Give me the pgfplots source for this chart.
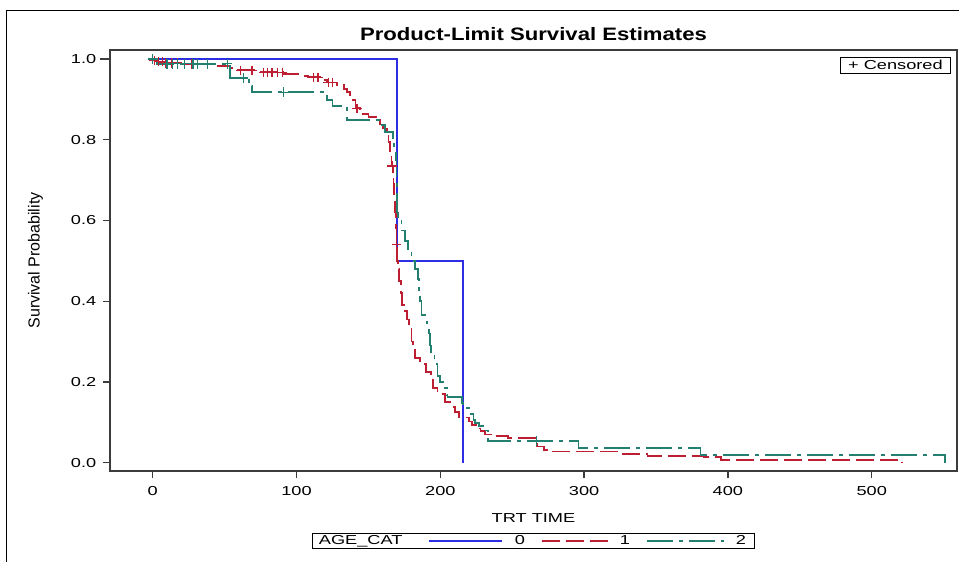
\documentclass[border=0pt]{standalone}
\usepackage{fontspec}
\setmainfont{Liberation Sans}[FakeStretch=1.4]
\newfontfamily\ylabelfont{Liberation Sans}
\newfontfamily\titlefont{Liberation Sans}[FakeStretch=1.23]
\usepackage{pgfplots}
\pgfplotsset{compat=1.18}

\definecolor{grpzero}{RGB}{45,45,230}
\definecolor{grpone}{RGB}{190,30,50}
\definecolor{grptwo}{RGB}{35,128,112}
\definecolor{axisgray}{RGB}{60,60,60}

\newcommand{\labelfont}{\fontsize{9.75pt}{11pt}\selectfont}

% legend key: a straight stroke of the given length
\pgfplotsset{
  keyline/.style={legend image code/.code={\draw[##1] (0pt,0pt) -- (#1,0pt);}},
}

\begin{document}
\begin{tikzpicture}[x=0.75pt,y=0.75pt]
\path[use as bounding box] (0,0) rectangle (959,561);
% outer frame
\draw[line width=1.1pt] (6.5,-5) -- (6.5,550.3) -- (970,550.3);
\begin{axis}[
  at={(82.5pt,67.5pt)}, anchor=south west,
  scale only axis, width=635.25pt, height=315.75pt,
  xmin=-29.7, xmax=559.3, ymin=-0.0206, ymax=1.0223,
  /pgf/number format/assume math mode=true,
  xtick={0,100,200,300,400,500},
  ytick={0,0.2,0.4,0.6,0.8,1.0},
  yticklabel style={xshift=-1.5pt, /pgf/number format/fixed,
    /pgf/number format/fixed zerofill, /pgf/number format/precision=1},
  tick label style={font=\labelfont},
  xticklabel style={yshift=-2.5pt},
  tick align=outside, tick pos=left,
  major tick length=5.25pt,
  tick style={axisgray, line width=1pt},
  y tick style={shorten <=-2.25pt},
  axis line style={axisgray, line width=1pt},
  title={Product-Limit Survival Estimates},
  title style={at={(axis description cs:0.5,1.003)}, anchor=base,
    font=\titlefont\bfseries\fontsize{13.5pt}{15pt}\selectfont},
  xlabel={TRT TIME},
  xlabel style={at={(axis description cs:0.5,-0.1228)}, anchor=base, font=\labelfont},
  ylabel={Survival Probability},
  ylabel style={at={(axis description cs:-0.088,0.5)}, anchor=center,
    font=\ylabelfont\fontsize{12pt}{14pt}\selectfont},
  legend style={at={(0.5,-0.1663)}, anchor=center,
    legend columns=-1, draw=black, line width=0.8pt,
    font=\labelfont, inner xsep=3pt, inner ysep=-0.5pt,
    /tikz/every even column/.append style={column sep=9.75pt}},
]
\addlegendimage{empty legend}
\addlegendentry{\makebox[70.5pt][l]{AGE\_CAT}}

% AGE_CAT = 0
\addplot[const plot, grpzero, line width=1.3pt, keyline=54.75pt] coordinates {
  (0,1.000) (170,0.500) (216,0.000)
};
\addlegendentry{\makebox[14.25pt][r]{0}}

% AGE_CAT = 1
\addplot[const plot, grpone, line width=1.3pt, dash pattern=on 13.5pt off 4.5pt,
  keyline=49.5pt] coordinates {
  (0,1.000) (1,0.996) (3,0.993) (8,0.990) (20,0.988) (45,0.982) (54,0.977)
  (58,0.972) (75,0.967) (91,0.962) (102,0.958) (108,0.955) (118,0.948)
  (121,0.942) (128,0.936) (133,0.926) (135,0.918) (137,0.908) (139,0.898)
  (141,0.878) (144,0.870) (146,0.864) (150,0.856) (156,0.848) (158,0.838)
  (160,0.828) (163,0.815) (164,0.795) (165,0.770) (166,0.735) (167,0.720)
  (167.5,0.690) (168,0.660) (168.5,0.620) (169,0.580) (169.5,0.540) (170,0.500)
  (170.5,0.480) (171.5,0.450) (172.5,0.420) (173.3,0.390) (175,0.375)
  (176.7,0.355) (178,0.335) (180,0.300) (181,0.280) (182.5,0.260) (186,0.245)
  (190,0.225) (193.5,0.205) (195,0.185) (198,0.170) (203,0.150) (207,0.138)
  (210,0.125) (213,0.112) (220,0.102) (222,0.094) (226,0.085) (228,0.078)
  (231,0.070) (235,0.066) (247,0.061) (267,0.040) (272,0.031) (274,0.028)
  (326,0.022) (344,0.017) (383,0.014) (395,0.007) (521,0.000)
};
\addlegendentry{\makebox[14.25pt][r]{1}}

% AGE_CAT = 2
\addplot[const plot, grptwo, line width=1.3pt,
  dash pattern=on 19.5pt off 4.5pt on 3pt off 4.5pt, keyline=57.75pt] coordinates {
  (0,1.000) (3,0.988) (54,0.953) (67,0.933) (69,0.918) (121,0.898) (125,0.884)
  (135,0.849) (158,0.836) (161.5,0.820) (167,0.800) (168,0.775) (169,0.750)
  (169.5,0.700) (169.8,0.650) (170,0.620) (170.5,0.600) (173,0.575)
  (175.5,0.550) (177.5,0.527) (180,0.500) (182.5,0.480) (184.5,0.455)
  (185,0.420) (186,0.400) (187,0.365) (190.5,0.345) (192,0.320) (193,0.290)
  (193.5,0.265) (196,0.245) (198,0.215) (200,0.200) (202,0.185) (204.6,0.168)
  (205,0.163) (215,0.148) (216,0.145) (218.6,0.135) (221,0.120) (223,0.105)
  (224,0.098) (227,0.090) (229.7,0.080) (233,0.054) (296,0.037) (381,0.019)
  (551,0.000)
};
\addlegendentry{\makebox[14.25pt][r]{2}\makebox[1.5pt]{}}

% censored observations
\addplot[only marks, mark=+, mark size=3.5pt, grpone, line width=0.9pt, forget plot] coordinates {
  (1,0.996) (4,0.993) (7,0.993) (9,0.990) (13,0.990) (17,0.990) (22,0.988)
  (27,0.988) (61,0.972) (69,0.972) (77,0.967) (80,0.967) (83,0.967) (87,0.967)
  (90,0.967) (112,0.955) (115,0.955) (122,0.942) (125,0.942) (142,0.878)
  (166.5,0.735) (169.6,0.540)
};
\addplot[only marks, mark=+, mark size=3.5pt, grptwo, line width=0.9pt, forget plot] coordinates {
  (0,1.000) (10,0.988) (14,0.988) (17,0.988) (22,0.988) (28,0.988) (31,0.988)
  (38,0.988) (52,0.988) (63,0.953) (91,0.918) (267,0.054)
};

\node[draw=black, line width=0.8pt, font=\labelfont, minimum width=83pt,
  minimum height=12pt, inner sep=0pt] at (rel axis cs:0.9273,0.9637) {+ Censored};
\end{axis}
\end{tikzpicture}
\end{document}
